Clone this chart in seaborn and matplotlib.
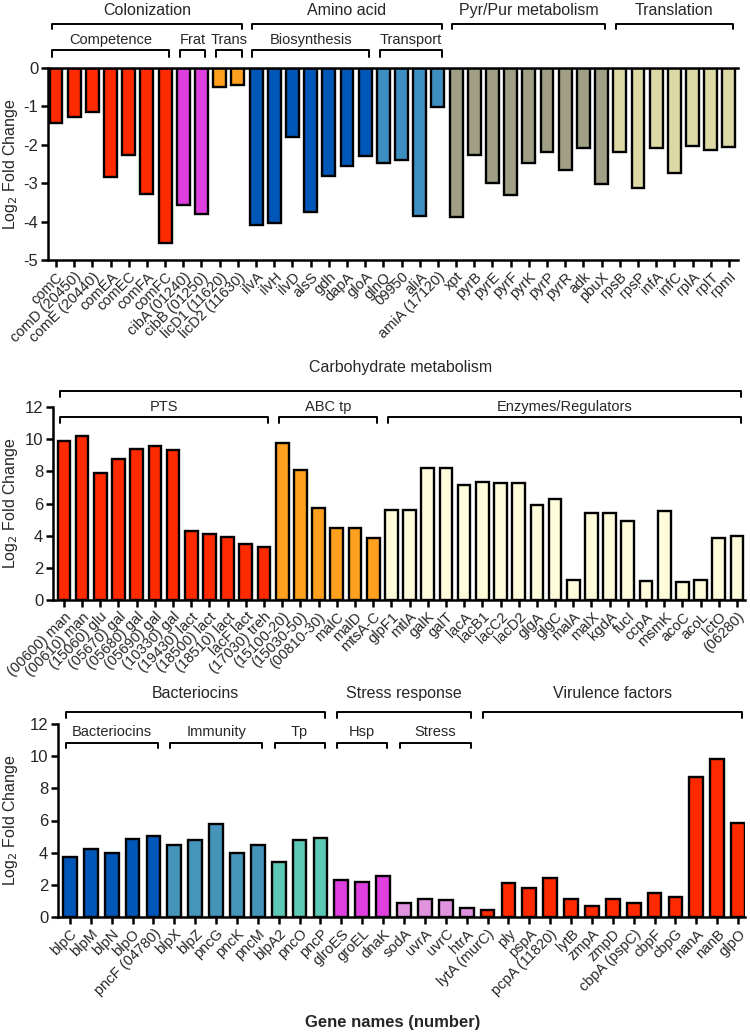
import matplotlib
matplotlib.use("Agg")
import matplotlib.pyplot as plt
import matplotlib.transforms as mtransforms
import pandas as pd
import seaborn as sns

# ---- panel 1: down-regulated genes
genes_top = ["comC", "comD (20450)", "comE (20440)", "comEA", "comEC", "comFA", "comFC",
             "cibA (01240)", "cibB (01250)", "licD1 (11620)", "licD2 (11630)",
             "ilvA", "ilvH", "ilvD", "alsS", "gdh", "dapA", "gloA",
             "glnQ", "09950", "aliA", "amiA (17120)",
             "xpt", "pyrB", "pyrE", "pyrF", "pyrK", "pyrP", "pyrR", "adk", "pbuX",
             "rpsB", "rpsP", "infA", "infC", "rplA", "rplT", "rpmI"]
lfc_top = [-1.44, -1.27, -1.15, -2.84, -2.27, -3.27, -4.57,
           -3.58, -3.8, -0.5, -0.45,
           -4.08, -4.04, -1.8, -3.74, -2.8, -2.55, -2.28,
           -2.48, -2.4, -3.86, -1.02,
           -3.88, -2.27, -3.0, -3.32, -2.47, -2.18, -2.66, -2.08, -3.03,
           -2.18, -3.12, -2.08, -2.73, -2.04, -2.13, -2.06]
group_top = (["Competence"] * 7 + ["Frat"] * 2 + ["Trans"] * 2 + ["Biosynthesis"] * 7
             + ["Transport"] * 4 + ["Pyr/Pur"] * 9 + ["Translation"] * 7)

# ---- panel 2: carbohydrate metabolism
genes_mid = ["(00600) man", "(00610) man", "(15060) glu", "(05670) gal", "(05680) gal",
             "(05690) gal", "(10330) gal", "(19430) lact", "(18500) lact", "(18510) lact",
             "lacF lact", "(17030) treh",
             "(15100-20)", "(15030-50)", "(00810-30)", "malC", "malD", "mtsA-C",
             "glpF1", "mtlA", "galK", "galT", "lacA", "lacB1", "lacC2", "lacD2", "glgA",
             "glgC", "malA", "malX", "kgdA", "fucI", "ccpA", "msmK", "acoC", "acoL",
             "lctO", "(06280)"]
lfc_mid = [9.9, 10.2, 7.87, 8.76, 9.4, 9.58, 9.34, 4.27, 4.08, 3.89, 3.48, 3.27,
           9.77, 8.07, 5.73, 4.5, 4.5, 3.83,
           5.59, 5.59, 8.22, 8.22, 7.14, 7.31, 7.27, 7.25, 5.9, 6.25, 1.24, 5.38,
           5.38, 4.9, 1.2, 5.53, 1.1, 1.26, 3.83, 4.0]
group_mid = ["PTS"] * 12 + ["ABC tp"] * 6 + ["Enzymes/Regulators"] * 20

# ---- panel 3: bacteriocins, stress, virulence
genes_bot = ["blpC", "blpM", "blpN", "blpO", "pncF (04780)",
             "blpX", "blpZ", "pncG", "pncK", "pncM",
             "blpA2", "pncO", "pncP",
             "glroES", "groEL", "dnaK",
             "sodA", "uvrA", "uvrC", "htrA",
             "lytA (murC)", "ply", "pspA", "pcpA (11820)", "lytB", "zmpA", "zmpD",
             "cbpA (pspC)", "cbpF", "cbpG", "nanA", "nanB", "glpO"]
lfc_bot = [3.75, 4.22, 4.0, 4.88, 5.05,
           4.45, 4.76, 5.78, 4.0, 4.49,
           3.42, 4.76, 4.9,
           2.3, 2.15, 2.57,
           0.85, 1.12, 1.06, 0.58,
           0.43, 2.09, 1.78, 2.44, 1.1, 0.7, 1.12, 0.89, 1.47, 1.26, 8.71, 9.83, 5.86]
group_bot = (["Bacteriocins"] * 5 + ["Immunity"] * 5 + ["Tp"] * 3 + ["Hsp"] * 3
             + ["Stress"] * 4 + ["Virulence"] * 13)

colors = {
    "Competence": "#ff2a00", "Frat": "#e03fe0", "Trans": "#ffa01e",
    "Biosynthesis": "#0057b8", "Transport": "#3d8fc2", "Pyr/Pur": "#a09f86",
    "Translation": "#dcd9a6",
    "PTS": "#ff2a00", "ABC tp": "#ffa01e", "Enzymes/Regulators": "#fffcdc",
    "Bacteriocins": "#0057b8", "Immunity": "#4595bb", "Tp": "#5cc9b5",
    "Hsp": "#e03fe0", "Stress": "#e293e0", "Virulence": "#ff2a00",
}

# brackets: (text, first gene, last gene)
top_main = [("Colonization", "comC", "licD2 (11630)"), ("Amino acid", "ilvA", "amiA (17120)"),
            ("Pyr/Pur metabolism", "xpt", "pbuX"), ("Translation", "rpsB", "rpmI")]
top_sub = [("Competence", "comC", "comFC"), ("Frat", "cibA (01240)", "cibB (01250)"),
           ("Trans", "licD1 (11620)", "licD2 (11630)"), ("Biosynthesis", "ilvA", "gloA"),
           ("Transport", "glnQ", "amiA (17120)")]
mid_main = [("Carbohydrate metabolism", "(00600) man", "(06280)")]
mid_sub = [("PTS", "(00600) man", "(17030) treh"), ("ABC tp", "(15100-20)", "mtsA-C"),
           ("Enzymes/Regulators", "glpF1", "(06280)")]
bot_main = [("Bacteriocins", "blpC", "pncP"), ("Stress response", "glroES", "htrA"),
            ("Virulence factors", "lytA (murC)", "glpO")]
bot_sub = [("Bacteriocins", "blpC", "pncF (04780)"), ("Immunity", "blpX", "pncM"),
           ("Tp", "blpA2", "pncP"), ("Hsp", "glroES", "dnaK"), ("Stress", "sodA", "htrA")]

sns.set_style("white")
plt.rcParams["font.family"] = ["Liberation Sans", "DejaVu Sans"]
plt.rcParams["axes.unicode_minus"] = False

fig = plt.figure(figsize=(7.5, 10.32), dpi=100)
W, H = 750, 1032


def make_axes(left, right, top, bottom):
    return fig.add_axes([left / W, 1 - bottom / H, (right - left) / W, (bottom - top) / H])


def draw_panel(ax, genes, vals, groups, width):
    df = pd.DataFrame({"gene": genes, "lfc": vals, "group": groups})
    sns.barplot(data=df, x="gene", y="lfc", hue="group", order=genes, palette=colors,
                dodge=False, width=width, edgecolor="black", linewidth=1.7,
                saturation=1, legend=False, ax=ax)
    ax.set_xlabel("")
    ax.set_ylabel("Log$_2$ Fold Change", fontsize=11.5)
    ax.tick_params(axis="both", direction="out", length=5, width=1.8, color="black",
                   bottom=True, left=True, pad=2)
    ax.tick_params(axis="y", labelsize=12)
    ax.set_xticks(range(len(genes)))
    ax.set_xticklabels(genes, rotation=45, ha="right", rotation_mode="anchor", fontsize=10.5)
    for s in ["left", "bottom", "top"]:
        ax.spines[s].set_linewidth(1.8)
        ax.spines[s].set_color("black")
    ax.spines["right"].set_visible(False)


def brackets(ax, genes, items, y, drop, ty, fs):
    tr = mtransforms.blended_transform_factory(ax.transData, ax.transAxes)
    for text, g0, g1 in items:
        x0 = genes.index(g0) - 0.2
        x1 = genes.index(g1) + 0.2
        ax.plot([x0, x0, x1, x1], [y - drop, y, y, y - drop], color="black", lw=1.4,
                transform=tr, clip_on=False)
        ax.text((x0 + x1) / 2, ty, text, transform=tr, ha="center", va="center", fontsize=fs)


# top panel
ax1 = make_axes(48, 738, 68, 260)
draw_panel(ax1, genes_top, lfc_top, group_top, 0.71)
ax1.set_ylim(-5, 0)
ax1.set_xlim(-0.44, len(genes_top) - 0.5)
ax1.set_yticks([0, -1, -2, -3, -4, -5])
ax1.yaxis.set_label_coords(-0.041, 0.5)
brackets(ax1, genes_top, top_main, 1.229, 0.026, 1.302, 11.5)
brackets(ax1, genes_top, top_sub, 1.094, 0.036, 1.146, 10.5)

# middle panel
ax2 = make_axes(53, 745, 407, 600)
draw_panel(ax2, genes_mid, lfc_mid, group_mid, 0.7)
ax2.spines["top"].set_visible(False)
ax2.set_ylim(0, 12)
ax2.set_xlim(-0.6, len(genes_mid) - 0.56)
ax2.set_yticks([0, 2, 4, 6, 8, 10, 12])
ax2.yaxis.set_label_coords(-0.048, 0.5)
brackets(ax2, genes_mid, mid_main, 1.083, 0.031, 1.207, 11.5)
brackets(ax2, genes_mid, mid_sub, 0.948, 0.031, 1.0, 10.5)

# bottom panel
ax3 = make_axes(58, 745, 724, 917)
draw_panel(ax3, genes_bot, lfc_bot, group_bot, 0.66)
ax3.spines["top"].set_visible(False)
ax3.set_ylim(0, 12)
ax3.set_xlim(-0.57, len(genes_bot) - 0.67)
ax3.set_yticks([0, 2, 4, 6, 8, 10, 12])
ax3.yaxis.set_label_coords(-0.056, 0.5)
brackets(ax3, genes_bot, bot_main, 1.062, 0.031, 1.16, 11.5)
brackets(ax3, genes_bot, bot_sub, 0.902, 0.026, 0.959, 10.5)

fig.text(393 / W, 1 - 1023 / H, "Gene names (number)", ha="center", va="center",
         fontsize=12, fontweight="bold")

fig.savefig("out.png", dpi=100)
